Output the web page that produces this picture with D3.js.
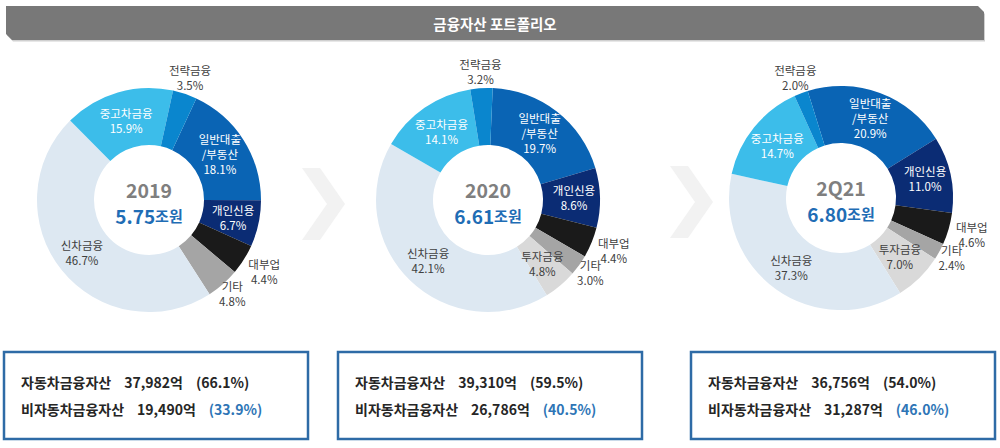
<!DOCTYPE html>
<html><head><meta charset="utf-8">
<script src="https://cdn.jsdelivr.net/npm/d3@7"></script>
<style>
html,body{margin:0;padding:0;background:#fff;}
svg{display:block;font-family:"Noto Sans CJK KR","Noto Sans",sans-serif;}
</style></head>
<body>
<svg id="chart" width="1000" height="448"></svg>
<script>
// ---------- data ----------
const title = "금융자산 포트폴리오";
const categories = ["일반대출/부동산","개인신용","대부업","기타","투자금융","신차금융","중고차금융","전략금융"];
const periods = ["2019","2020","2Q21"];
const totals = ["5.75","6.61","6.80"];
const share2019 = [18.1, 6.7, 4.4, 4.8, 0, 46.7, 15.9, 3.5];
const share2020 = [19.7, 8.6, 4.4, 3.0, 4.8, 42.1, 14.1, 3.2];
const share2Q21 = [20.9, 11.0, 4.6, 2.4, 7.0, 37.3, 14.7, 2.0];
const autoAssets = [37982, 39310, 36756];
const autoPct = [66.1, 59.5, 54.0];
const nonAutoAssets = [19490, 26786, 31287];
const nonAutoPct = [33.9, 40.5, 46.0];
const autoLabel = "자동차금융자산";
const nonAutoLabel = "비자동차금융자산";

// ---------- style / layout ----------
const colors = ["#0A64B4","#0B2C74","#1A1A1A","#A5A5A5","#D9D9D9","#DDE8F2","#3CBDEA","#0A86CE"];
const labelColors = ["#fff","#fff","#404040","#404040","#404040","#404040","#fff","#404040"];
const labelRadius = [84, 86, 136, 126, 84, 86, 82, 128];
const centers = [[149,200],[488,200],[841,198]];
const startDeg = [25, 2.4, -17.3];
const outerR = 112, innerR = 55;
const boxX = [4, 338, 691], boxW = 304, boxY = 352, boxH = 87;

const shares = [share2019, share2020, share2Q21];
const svg = d3.select("#chart");

// header bar
const hx0 = 6, hx1 = 984, hy0 = 6, hy1 = 40, bev = 6;
svg.append("path")
  .attr("d", `M${hx0+1},${hy0+2} L${hx1-bev+1},${hy0+2} L${hx1+1},${hy0+bev+2} L${hx1+1},${hy1+1.5} L${hx0+bev+1},${hy1+1.5} L${hx0+1},${hy1-bev+1.5} Z`)
  .attr("fill", "#d0d0d0");
svg.append("path")
  .attr("d", `M${hx0},${hy0} L${hx1-bev},${hy0} L${hx1},${hy0+bev} L${hx1},${hy1} L${hx0+bev},${hy1} L${hx0},${hy1-bev} Z`)
  .attr("fill", "#787878");
svg.append("text").attr("x", 495).attr("y", 23).attr("text-anchor","middle")
  .attr("dominant-baseline","central").attr("fill","#fff")
  .attr("font-size", 14.5).attr("font-weight", "bold").text(title);

// chevrons
function chevron(x, y) {
  svg.append("path")
    .attr("d", `M${x},${y} L${x+18},${y} L${x+43},${y+36} L${x+18},${y+72} L${x},${y+72} L${x+25},${y+36} Z`)
    .attr("fill", "#F2F2F2");
}
chevron(302, 168);
chevron(670, 166);

const arc = d3.arc().innerRadius(innerR).outerRadius(outerR);
const fmtNum = d3.format(",");
const fmtPct = d3.format(".1f");

periods.forEach((p, i) => {
  const [cx, cy] = centers[i];
  const a0 = startDeg[i] * Math.PI / 180;
  const pie = d3.pie().sort(null).value(d => d.v).startAngle(a0).endAngle(a0 + 2 * Math.PI);
  const data = categories.map((c, k) => ({c, k, v: shares[i][k]})).filter(d => d.v > 0);
  const arcs = pie(data);
  const g = svg.append("g").attr("transform", `translate(${cx},${cy})`);
  g.selectAll("path.slice").data(arcs).join("path")
    .attr("class", "slice")
    .attr("d", arc)
    .attr("fill", d => colors[d.data.k]);

  // labels
  arcs.forEach(d => {
    const k = d.data.k;
    const mid = (d.startAngle + d.endAngle) / 2;
    const r = labelRadius[k];
    const x = r * Math.sin(mid), y = -r * Math.cos(mid);
    const name = d.data.c;
    const lines = name.includes("/") ? [name.split("/")[0], "/" + name.split("/")[1]] : [name];
    lines.push(fmtPct(d.data.v) + "%");
    const lh = 15;
    const t = g.append("text").attr("text-anchor", "middle")
      .attr("fill", labelColors[k]).attr("font-size", 11.5);
    lines.forEach((ln, j) => {
      t.append("tspan").attr("x", x)
        .attr("y", y + (j - (lines.length - 1) / 2) * lh)
        .attr("dy", "0.35em").text(ln);
    });
  });

  // center text
  g.append("text").attr("text-anchor", "middle").attr("y", -11)
    .attr("dominant-baseline", "central")
    .attr("fill", "#7F7F7F").attr("font-size", 19.5).attr("font-weight", "bold").text(p);
  const ct = g.append("text").attr("text-anchor", "middle").attr("y", 15)
    .attr("dominant-baseline", "central")
    .attr("fill", "#1F6DB5").attr("font-weight", "bold");
  ct.append("tspan").attr("font-size", 19).text(totals[i]);
  ct.append("tspan").attr("font-size", 15).text("조원");

  // bottom box
  const bx = boxX[i];
  svg.append("rect").attr("x", bx).attr("y", boxY).attr("width", boxW).attr("height", boxH)
    .attr("fill", "#fff").attr("stroke", "#2E6BA6").attr("stroke-width", 2.5);
  const rows = [
    [autoLabel, autoAssets[i], autoPct[i], "#262626"],
    [nonAutoLabel, nonAutoAssets[i], nonAutoPct[i], "#2E75B6"]
  ];
  rows.forEach((row, j) => {
    const t = svg.append("text").attr("x", bx + 17).attr("y", 388 + j * 27)
      .attr("font-size", 14).attr("font-weight", "bold").attr("fill", "#262626");
    t.append("tspan").text(row[0]);
    t.append("tspan").attr("dx", 13).text(fmtNum(row[1]) + "억");
    t.append("tspan").attr("dx", 13).attr("fill", row[3]).text("(" + fmtPct(row[2]) + "%)");
  });
});
</script>
</body></html>
